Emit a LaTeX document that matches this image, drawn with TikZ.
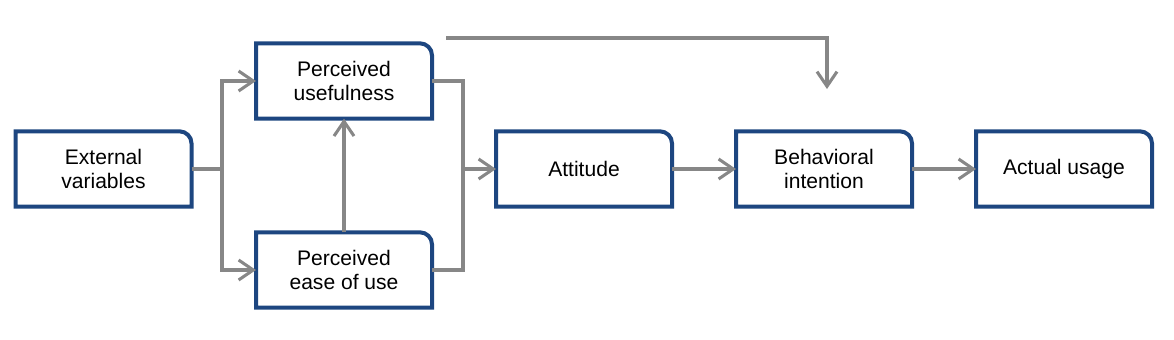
\documentclass[tikz,border=0pt]{standalone}
\usepackage{fontspec}
\setmainfont{Liberation Sans}
\usetikzlibrary{arrows.meta}
\definecolor{boxblue}{HTML}{1D4680}
\definecolor{arrgrey}{HTML}{878787}
\begin{document}
\begin{tikzpicture}[x=0.75pt,y=-0.75pt,
  tambox/.style={minimum width=132pt,minimum height=56.5pt,inner sep=0pt,outer sep=0pt,
    align=center,font=\fontsize{15.8}{17.5}\selectfont},
  border/.style={draw=boxblue,line width=3pt,line join=miter},
  arr/.style={draw=arrgrey,line width=2.3pt,-{Straight Barb[length=11pt,width=15pt]}},
  ln/.style={draw=arrgrey,line width=2.3pt}]
\useasboundingbox (0,0) rectangle (1174,339);
\node[tambox] (ext) at (103.5,169) {External\\variables};
\node[tambox] (pu) at (344,81) {Perceived\\usefulness};
\node[tambox] (peou) at (344,270) {Perceived\\ease of use};
\node[tambox] (att) at (584,169) {Attitude};
\node[tambox] (bi) at (824,169) {Behavioral\\intention};
\node[tambox] (au) at (1064,169) {Actual usage};
\foreach \n in {ext,pu,peou,att,bi,au}{
  \draw[border] (\n.south west) -- (\n.north west) -- ([xshift=-9pt]\n.north east)
    arc[start angle=90,end angle=0,radius=9pt] -- (\n.south east) -- cycle;
}
\coordinate (j1) at (222,169);
\coordinate (j2) at (463,169);
\coordinate (ts) at (446,38);
\coordinate (te) at (827,89);
\draw[ln] (ext.east) -- (j1);
\draw[arr] (j1) |- (pu.west);
\draw[arr] (j1) |- (peou.west);
\draw[arr] (peou.north) -- (pu.south);
\draw[ln] (pu.east) -| (j2);
\draw[ln] (peou.east) -| (j2);
\draw[arr] (j2) -- (att.west);
\draw[arr] (att.east) -- (bi.west);
\draw[arr] (bi.east) -- (au.west);
\draw[arr] (ts) -| (te);
\end{tikzpicture}
\end{document}
